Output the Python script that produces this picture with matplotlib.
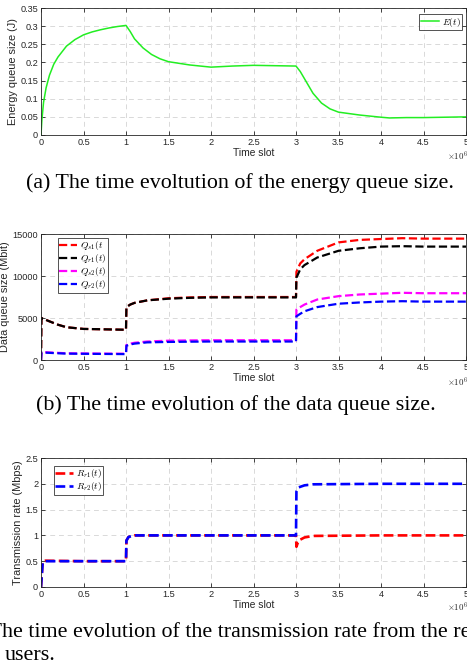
import numpy as np
import matplotlib
matplotlib.use('Agg')
import matplotlib.pyplot as plt

# --- (a) energy queue, time in units of 1e6 slots ---
t_e = [0, 0.01, 0.03, 0.06, 0.1, 0.15, 0.2, 0.3, 0.4, 0.5, 0.6, 0.7, 0.8, 0.9, 1.0,
       1.05, 1.1, 1.2, 1.3, 1.4, 1.5, 1.75, 2.0, 2.25, 2.5, 2.75, 3.0,
       3.05, 3.1, 3.2, 3.3, 3.4, 3.5, 3.75, 4.0, 4.1, 4.3, 4.5, 4.75, 5.0]
E = [0, 0.04, 0.09, 0.13, 0.165, 0.195, 0.215, 0.245, 0.263, 0.276, 0.284, 0.29, 0.295, 0.299, 0.302,
     0.285, 0.265, 0.24, 0.222, 0.21, 0.202, 0.193, 0.187, 0.19, 0.192, 0.191, 0.19,
     0.175, 0.155, 0.115, 0.088, 0.072, 0.063, 0.055, 0.049, 0.047, 0.048, 0.048, 0.049, 0.05]

# --- (b) data queues ---
t_q = [0, 0.005, 0.1, 0.2, 0.3, 0.5, 0.75, 1.0, 1.005, 1.05, 1.1, 1.25, 1.5, 1.75, 2.0, 2.5, 3.0,
       3.005, 3.05, 3.1, 3.25, 3.5, 3.75, 4.0, 4.25, 4.5, 5.0]
Q_s1 = [0, 5000, 4600, 4200, 3900, 3700, 3650, 3600, 6300, 6600, 6800, 7100, 7350, 7450, 7500, 7500, 7500,
        10500, 11500, 12000, 13000, 14000, 14300, 14400, 14500, 14450, 14450]
Q_r1 = [0, 5000, 4600, 4200, 3900, 3700, 3650, 3600, 6300, 6600, 6800, 7100, 7300, 7400, 7450, 7450, 7450,
        9800, 10800, 11300, 12200, 13000, 13300, 13500, 13550, 13500, 13500]
Q_s2 = [0, 950, 900, 850, 800, 780, 760, 750, 1800, 1950, 2050, 2200, 2300, 2330, 2350, 2350, 2350,
        6000, 6300, 6600, 7200, 7600, 7800, 7900, 8000, 7950, 7950]
Q_r2 = [0, 900, 850, 800, 760, 740, 720, 700, 1700, 1850, 1950, 2100, 2150, 2180, 2200, 2200, 2200,
        5200, 5500, 5800, 6300, 6700, 6850, 6950, 7000, 6950, 6950]

# --- (c) transmission rates ---
t_r = [0, 0.02, 0.05, 0.5, 1.0, 1.005, 1.03, 1.1, 2.0, 3.0, 3.005, 3.03, 3.1, 3.2, 4.0, 5.0]
R_r1 = [0, 0.5, 0.51, 0.5, 0.5, 0.9, 0.97, 1.0, 1.0, 1.0, 0.78, 0.9, 0.96, 0.99, 1.0, 1.0]
R_r2 = [0, 0.48, 0.5, 0.5, 0.5, 0.9, 0.97, 1.0, 1.0, 1.0, 1.85, 1.93, 1.97, 1.99, 2.0, 2.0]

xticks = [0, 0.5, 1, 1.5, 2, 2.5, 3, 3.5, 4, 4.5, 5]
xticklabels = ['0', '0.5', '1', '1.5', '2', '2.5', '3', '3.5', '4', '4.5', '5']

plt.rcParams['font.family'] = ['Liberation Sans', 'DejaVu Sans']
plt.rcParams['mathtext.fontset'] = 'cm'

W, H = 467, 671
fig = plt.figure(figsize=(W / 100, H / 100), dpi=100, facecolor='white')


def frac(left, top, right, bottom):
    return [left / W, 1 - bottom / H, (right - left) / W, (bottom - top) / H]


def style(ax, ylabel, yticks, yticklabels, exp_y):
    ax.set_xlim(0, 5)
    ax.set_xticks(xticks)
    ax.set_xticklabels(xticklabels)
    ax.set_yticks(yticks)
    ax.set_yticklabels(yticklabels)
    ax.set_ylim(yticks[0], yticks[-1])
    ax.grid(True, linestyle=(0, (5, 4)), color='#d9d9d9', linewidth=0.7)
    ax.set_axisbelow(True)
    ax.tick_params(direction='in', length=3, width=0.6, colors='#262626',
                   labelsize=6.6, pad=2, top=True, right=True)
    for s in ax.spines.values():
        s.set_color('#262626')
        s.set_linewidth(0.6)
    ax.set_xlabel('Time slot', fontsize=7.4, color='#262626', labelpad=1)
    ax.set_ylabel(ylabel, fontsize=7.9, color='#262626', labelpad=2)
    # exponent label, partly cut at the right edge like the reference
    fig.text(447 / W, 1 - exp_y / H, r'$\times10^6$', ha='left', va='center',
             fontsize=6.4, color='#262626', family='DejaVu Sans')


def legend(ax, loc, anchor):
    lg = ax.legend(loc=loc, bbox_to_anchor=anchor, fontsize=6.8, frameon=True, fancybox=False,
                   borderpad=0.15, labelspacing=0.0, handlelength=1.9, handletextpad=0.3,
                   borderaxespad=0.0)
    lg.get_frame().set_edgecolor('#262626')
    lg.get_frame().set_linewidth(0.7)


caption = dict(family='Liberation Serif', fontsize=15.8, color='black')

# (a)
ax1 = fig.add_axes(frac(41, 8, 466, 135))
ax1.plot(t_e, E, color='#22ee22', linewidth=1.1, label='$E(t)$')
style(ax1, 'Energy queue size (J)', [0, 0.05, 0.1, 0.15, 0.2, 0.25, 0.3, 0.35],
      ['0', '0.05', '0.1', '0.15', '0.2', '0.25', '0.3', '0.35'], 156)
legend(ax1, 'upper right', (0.99, 0.95))
fig.text(240 / W, 1 - 183 / H, '(a) The time evoltution of the energy queue size.',
         ha='center', va='center', **caption)

# (b)
ax2 = fig.add_axes(frac(41, 234, 466, 360))
ax2.plot(t_q, Q_s1, color='#ff0000', linestyle='--', linewidth=1.6, label='$Q_{s1}(t$')
ax2.plot(t_q, Q_r1, color='#000000', linestyle='--', linewidth=1.6, label='$Q_{r1}(t)$')
ax2.plot(t_q, Q_s2, color='#ff00ff', linestyle='--', linewidth=1.6, label='$Q_{s2}(t)$')
ax2.plot(t_q, Q_r2, color='#0000ff', linestyle='--', linewidth=1.6, label='$Q_{r2}(t)$')
style(ax2, 'Data queue size (Mbit)', [0, 5000, 10000, 15000], ['0', '5000', '10000', '15000'], 382)
legend(ax2, 'upper left', (0.04, 0.97))
fig.text(236 / W, 1 - 405 / H, '(b) The time evolution of the data queue size.',
         ha='center', va='center', **caption)

# (c)
ax3 = fig.add_axes(frac(41, 458, 466, 587))
ax3.plot(t_r, R_r1, color='#ff0000', linestyle='--', linewidth=1.9, label='$R_{r1}(t)$')
ax3.plot(t_r, R_r2, color='#0000ff', linestyle='--', linewidth=1.9, label='$R_{r2}(t)$')
style(ax3, 'Transmission rate (Mbps)', [0, 0.5, 1, 1.5, 2, 2.5],
      ['0', '0.5', '1', '1.5', '2', '2.5'], 607)
legend(ax3, 'upper left', (0.03, 0.94))
fig.text(-41 / W, 1 - 632 / H,
         '(c) The time evolution of the transmission rate from the relay to the',
         ha='left', va='center', **caption)
fig.text(5 / W, 1 - 655 / H, 'users.', ha='left', va='center', **caption)

fig.savefig('out.png', dpi=100, facecolor='white')
